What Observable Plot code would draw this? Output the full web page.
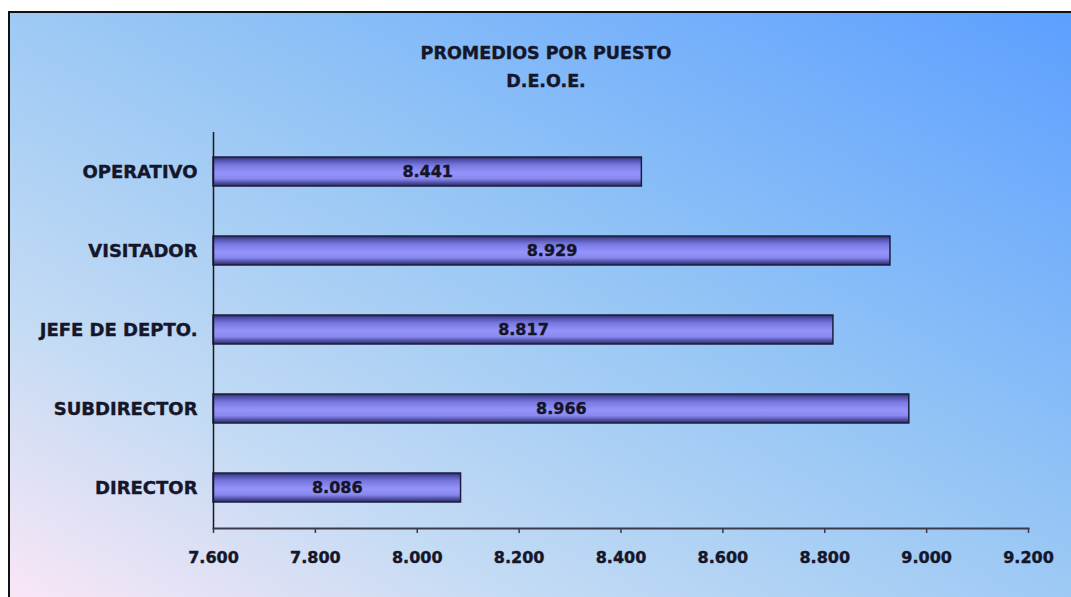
<!DOCTYPE html>
<html>
<head>
<meta charset="utf-8">
<script src="https://cdn.jsdelivr.net/npm/d3@7"></script>
<script src="https://cdn.jsdelivr.net/npm/@observablehq/plot@0.6"></script>
<style>
  body { margin: 0; background: #ffffff; }
  #wrap { position: relative; width: 1071px; height: 597px; overflow: hidden; font-family: "DejaVu Sans", sans-serif; }
  #bg {
    position: absolute; left: 8px; top: 11px; right: 0; bottom: 0;
    border-left: 2px solid #111; border-top: 2px solid #111;
    background: linear-gradient(to top right, #f9e6f6 0%, #c4dbf4 24%, #96c6f5 55%, #5c9fff 100%);
  }
  #title {
    position: absolute; left: 0; width: 1092px; top: 39px;
    text-align: center; font-size: 17.5px; font-weight: bold; line-height: 28px;
    color: #16162a; -webkit-text-stroke: 0.4px #16162a;
  }
  #chart { position: absolute; left: 0; top: 0; }
</style>
</head>
<body>
<div id="wrap">
  <div id="bg"></div>
  <div id="title">PROMEDIOS POR PUESTO<br>D.E.O.E.</div>
  <div id="chart"></div>
</div>
<script>
const categories = ["OPERATIVO", "VISITADOR", "JEFE DE DEPTO.", "SUBDIRECTOR", "DIRECTOR"];
const values = [8.441, 8.929, 8.817, 8.966, 8.086];
const xTicks = [7.6, 7.8, 8.0, 8.2, 8.4, 8.6, 8.8, 9.0, 9.2];
const xMin = 7.6, xMax = 9.2;

const data = categories.map((c, i) => ({ puesto: c, valor: values[i] }));
const fmt = d => d.toFixed(3);

const chart = Plot.plot({
  width: 1071,
  height: 597,
  marginLeft: 213,
  marginRight: 43,
  marginTop: 132,
  marginBottom: 69,
  style: { background: "transparent", fontFamily: "DejaVu Sans, sans-serif", color: "#16162a", overflow: "visible" },
  x: { domain: [xMin, xMax], ticks: xTicks, tickFormat: fmt, label: null },
  y: { domain: categories, paddingInner: 0.63, paddingOuter: 0.315, label: null },
  marks: [
    Plot.barX(data, { x1: () => xMin, x2: "valor", y: "puesto", fill: "url(#barGrad)", stroke: "#1e1e3c", strokeWidth: 1.5 }),
    Plot.text(data, { x: d => (xMin + d.valor) / 2, y: "puesto", text: d => fmt(d.valor), fontWeight: "bold", fontSize: 16, fill: "#15152a", stroke: "#15152a", strokeWidth: 0.4 }),
    Plot.ruleX([xMin], { stroke: "#1a1a1a", strokeWidth: 1.5 }),
    Plot.frame({ anchor: "bottom", stroke: "#3a3a4a", strokeWidth: 2 }),
    Plot.axisX({ ticks: xTicks, tickFormat: fmt, tickSize: 5, tickPadding: 18, fontSize: 16, fontWeight: "bold", stroke: "#3a3a4a", strokeWidth: 1.5, fill: "#16162a", label: null }),
    Plot.axisY({ tickSize: 0, tickPadding: 16, fontSize: 18, fontWeight: "bold", fill: "#16162a", label: null })
  ]
});

const svg = d3.select(chart);
// thicken axis labels slightly to match the heavy reference lettering
svg.selectAll("[aria-label='x-axis tick label'] text, [aria-label='y-axis tick label'] text")
  .attr("stroke", "#16162a").attr("stroke-width", 0.4);
const defs = svg.insert("defs", ":first-child");
const grad = defs.append("linearGradient").attr("id", "barGrad")
  .attr("x1", 0).attr("y1", 0).attr("x2", 0).attr("y2", 1);
[
  [0, "#2a2a58"], [0.1, "#4e4eac"], [0.28, "#7878e0"], [0.55, "#9494fc"],
  [0.75, "#8888ee"], [0.9, "#4c4ca2"], [1, "#2a2a58"]
].forEach(([o, c]) => grad.append("stop").attr("offset", o).attr("stop-color", c));

document.getElementById("chart").appendChild(chart);
</script>
</body>
</html>
